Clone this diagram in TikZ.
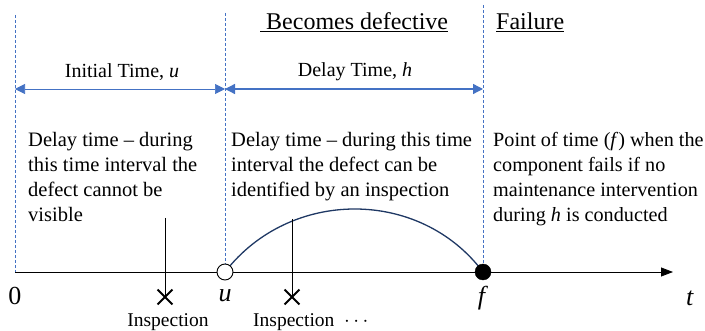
\documentclass[tikz,border=0pt]{standalone}
\usepackage{fontspec}
\setmainfont{Liberation Serif}
\usetikzlibrary{arrows.meta,shapes.misc}
\definecolor{myblue}{HTML}{4472C4}
\definecolor{arcblue}{HTML}{1F3864}
\begin{document}
\begin{tikzpicture}[x=1pt,y=-1pt,
  txt/.style={font=\fontsize{20.5}{25}\selectfont, inner sep=0pt, align=left, anchor=north west},
  lbl/.style={font=\fontsize{20}{25}\selectfont, inner sep=0pt},
  axl/.style={font=\fontsize{26}{26}\selectfont, inner sep=0pt},
  vdash/.style={draw=myblue, line width=0.9pt, dash pattern=on 3pt off 2pt},
  span/.style={draw=myblue, {Triangle[length=10pt,width=10pt]}-{Triangle[length=10pt,width=10pt]}},
  insp/.style={font=\fontsize{19.5}{20}\selectfont, inner sep=0pt},
  xmark/.style={cross out, draw, line width=1.8pt, minimum size=13pt, inner sep=0pt}]
\useasboundingbox (0,0) rectangle (705,331);
% key coordinates
\coordinate (zero) at (15,272);
\coordinate (uu) at (225,272);
\coordinate (ff) at (483,272);
\coordinate (tend) at (673,272);
% dashed verticals
\coordinate (d0top) at (15,15);
\coordinate (dutop) at (225,13);
\coordinate (dftop) at (483,5);
\draw[vdash] (d0top) -- (zero);
\draw[vdash] (dutop) -- (225,264);
\draw[vdash] (dftop) -- (ff);
% axis
\draw[line width=0.8pt, -{Triangle[length=12pt,width=9pt]}] (zero) -- (tend);
% arc
\draw[arcblue, line width=1.3pt] (uu) .. controls (290,188) and (420,188) .. (ff);
% points
\node[circle, draw, fill=white, line width=0.9pt, minimum size=16pt, inner sep=0pt] (pu) at (uu) {};
\node[circle, draw, fill=black, minimum size=16pt, inner sep=0pt] (pf) at (ff) {};
% inspections
\coordinate (i1top) at (165,218);
\coordinate (i2top) at (292,219);
\node[xmark] (x1) at (165,297) {};
\node[xmark] (x2) at (292,297) {};
\draw[line width=0.8pt] (i1top) -- (x1.center);
\draw[line width=0.8pt] (i2top) -- (x2.center);
\node[insp] (in1) at (168,322) {Inspection};
\node[insp, anchor=west] (in2) at (253,322) {Inspection \ $\cdots$};
% axis labels
\node[axl] (l0) at (15,296) {0};
\node[axl] (lu) at (225,296) {\textit{u}};
\node[axl] (lf) at (483,298) {\textit{f}};
\node[axl] (lt) at (690,298) {\textit{t}};
% spans
\draw[span, line width=0.7pt] (15,89) -- (225,89);
\draw[span, line width=1.3pt] (225,89) -- (483,89);
\node[lbl] (it) at (122,72) {Initial Time, \textit{u}};
\node[lbl] (dt) at (355,72) {Delay Time, \textit{h}};
% headers
\node[lbl, font=\fontsize{24}{25}\selectfont, anchor=west] (bd) at (260,22) {\underline{\ Becomes defective}};
\node[lbl, font=\fontsize{24}{25}\selectfont, anchor=west] (fl) at (496,22) {\underline{Failure}};
% text blocks
\node[txt] (t1) at (28,132) {Delay time -- during\\this time interval the\\defect cannot be\\visible};
\node[txt] (t2) at (231,132) {Delay time -- during this time\\interval the defect can be\\identified by an inspection};
\node[txt, font=\fontsize{20.2}{25}\selectfont] (t3) at (493,132) {Point of time (\textit{f}) when the\\component fails if no\\maintenance intervention\\during \textit{h} is conducted};
\end{tikzpicture}
\end{document}
